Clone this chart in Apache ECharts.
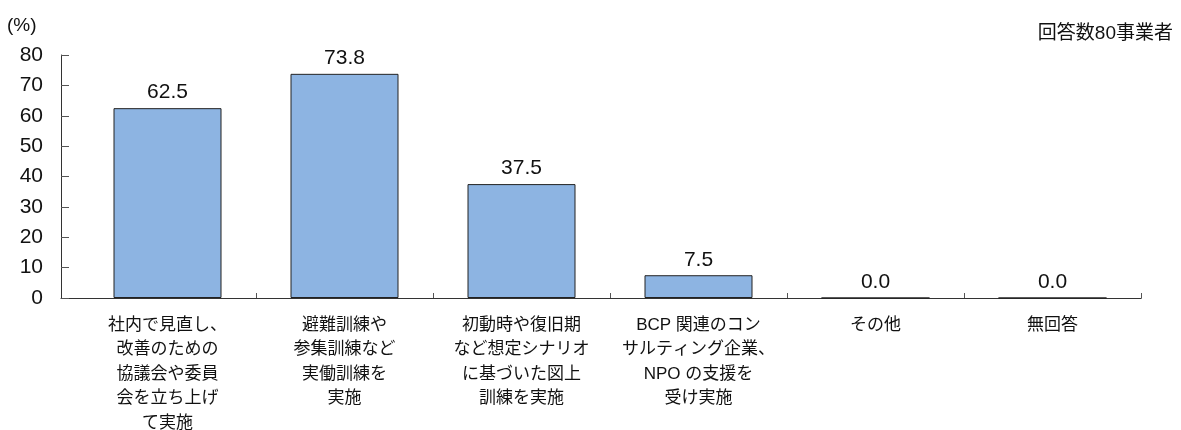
<!DOCTYPE html>
<html>
<head>
<meta charset="utf-8">
<script src="https://cdn.jsdelivr.net/npm/echarts@6/dist/echarts.min.js"></script>
<style>
html,body{margin:0;padding:0;background:#fff;}
#chart{width:1181px;height:430px;}
</style>
</head>
<body>
<div id="chart"></div>
<script>
const categories = [
  "社内で見直し、\n改善のための\n協議会や委員\n会を立ち上げ\nて実施",
  "避難訓練や\n参集訓練など\n実働訓練を\n実施",
  "初動時や復旧期\nなど想定シナリオ\nに基づいた図上\n訓練を実施",
  "BCP 関連のコン\nサルティング企業、\nNPO の支援を\n受け実施",
  "その他",
  "無回答"
];
const values = [62.5, 73.8, 37.5, 7.5, 0.0, 0.0];
const yTicks = { min: 0, max: 80, interval: 10 };
const unitLabel = "(%)";
const noteLabel = "回答数80事業者";

const FONT = "'Liberation Sans', 'Noto Sans CJK JP', sans-serif";
const chart = echarts.init(document.getElementById('chart'));
chart.setOption({
  animation: false,
  backgroundColor: '#fff',
  textStyle: { fontFamily: FONT, color: '#111' },
  title: [
    { text: unitLabel, left: 7, top: 16, padding: 0, textStyle: { fontFamily: FONT, fontSize: 19, fontWeight: 'normal', color: '#111' } },
    { text: noteLabel, right: 3, top: 19, textStyle: { fontFamily: FONT, fontSize: 19, fontWeight: 'normal', color: '#111' } }
  ],
  grid: [
    { left: 79, right: 40, top: 55, bottom: 132, containLabel: false, outerBoundsMode: 'none' },
    { left: 61, right: 40, top: 55, bottom: 132, containLabel: false, outerBoundsMode: 'none' }
  ],
  xAxis: [
    {
      type: 'category', gridIndex: 0, data: categories,
      axisLine: { show: true, lineStyle: { color: '#333', width: 1 } },
      axisTick: { show: true, inside: true, length: 5, lineStyle: { color: '#555' },
        interval: function (i) { return i !== 0; } },
      axisLabel: { fontFamily: FONT, fontSize: 17, color: '#111', lineHeight: 24.5, margin: 15, interval: 0 }
    },
    {
      type: 'category', gridIndex: 1, data: [''],
      axisLine: { show: true, lineStyle: { color: '#333', width: 1 } },
      axisTick: { show: false }, axisLabel: { show: false }
    }
  ],
  yAxis: [
    {
      type: 'value', gridIndex: 0, min: yTicks.min, max: yTicks.max, interval: yTicks.interval,
      offset: 18,
      axisLine: { show: true, lineStyle: { color: '#333', width: 1 } },
      axisTick: { show: true, inside: true, length: 8, lineStyle: { color: '#555' } },
      splitLine: { show: false },
      axisLabel: { fontFamily: FONT, fontSize: 21, color: '#111', margin: 18 }
    },
    {
      type: 'value', gridIndex: 1, min: 0, max: 80, show: false
    }
  ],
  series: [{
    type: 'bar', xAxisIndex: 0, yAxisIndex: 0,
    data: values,
    barWidth: 108,
    itemStyle: { color: '#8DB4E2', borderColor: '#222', borderWidth: 1 },
    label: {
      show: true, position: 'top', distance: 5,
      fontFamily: FONT, fontSize: 21, color: '#111',
      formatter: function (p) { return p.value.toFixed(1); }
    }
  }]
});
</script>
</body>
</html>
